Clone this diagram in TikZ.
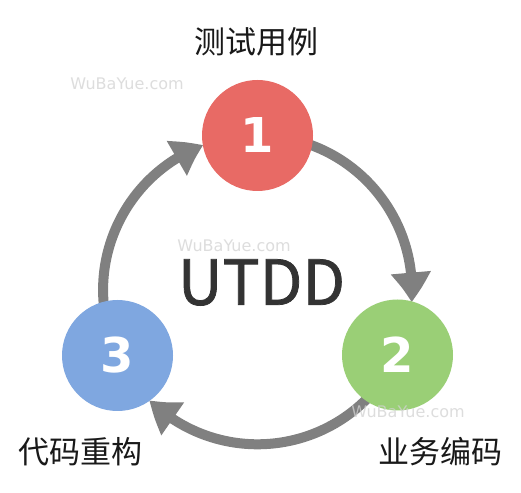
\documentclass[tikz,border=0pt]{standalone}
\usepackage{fontspec}
\newfontfamily\cjk{Noto Sans CJK SC}
\newfontfamily\cjkbold[FakeBold=1.2]{Noto Sans CJK SC}
\newfontfamily\dejavu{DejaVu Sans}
\usetikzlibrary{arrows.meta,bending,calc}
\definecolor{cred}{HTML}{E86A65}
\definecolor{cgreen}{HTML}{9ACF76}
\definecolor{cblue}{HTML}{7FA7E0}
\definecolor{cgray}{HTML}{808080}
\definecolor{ctext}{HTML}{333333}
\definecolor{cwm}{HTML}{D2D2D2}
\tikzset{
  stepcircle/.style={circle, minimum size=111pt, inner sep=0pt, text=white,
    font=\dejavu\bfseries\fontsize{48}{48}\selectfont},
  cycarrow/.style={draw=cgray, line width=10pt, -{Triangle[width=38pt,length=30pt,bend]}},
  steplabel/.style={font=\cjk\fontsize{31}{31}\selectfont, text=black!90, inner sep=0pt},
  watermark/.style={font=\dejavu\fontsize{16}{16}\selectfont, text=cwm, opacity=0.75, inner sep=0pt}
}
\begin{document}
\begin{tikzpicture}[x=1pt,y=1pt]
\useasboundingbox (0,0) rectangle (521,492);
\fill[white] (0,0) rectangle (521,492);
\coordinate (c) at (257.5,202.1);
\def\R{154.4}
% arcs
\draw[cycarrow] ($(c)+(80:\R)$) arc[start angle=80, end angle=-4.6, radius=\R];
\draw[cycarrow] ($(c)+(-35:\R)$) arc[start angle=-35, end angle=-134.4, radius=\R];
\draw[cycarrow] ($(c)+(195:\R)$) arc[start angle=195, end angle=110.5, radius=\R];
% circles
\node[stepcircle, fill=cred] (n1) at (257.5,356.5) {1};
\node[stepcircle, fill=cgreen] (n2) at (397.5,137) {2};
\node[stepcircle, fill=cblue] (n3) at (117.5,136.5) {3};
% center title
\node[font=\cjkbold\fontsize{62}{62}\selectfont, text=ctext, inner sep=0pt] (t) at (261.5,209.5) {UTDD};
% labels
\node[steplabel] (l1) at (256,450) {测试用例};
\node[steplabel] (l2) at (440,40) {业务编码};
\node[steplabel] (l3) at (80,40) {代码重构};
% watermarks
\node[watermark] (w1) at (127,408) {WuBaYue.com};
\node[watermark] (w2) at (234,246) {WuBaYue.com};
\node[watermark] (w3) at (408,80) {WuBaYue.com};
\end{tikzpicture}
\end{document}
